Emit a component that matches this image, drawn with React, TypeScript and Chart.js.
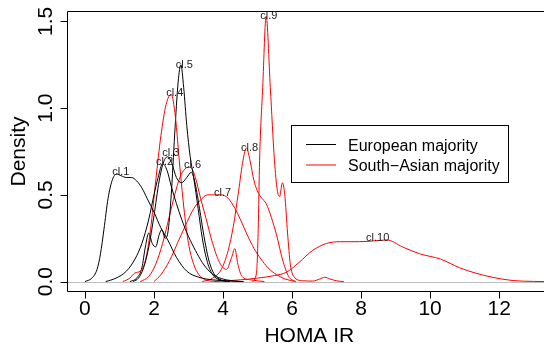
import { useEffect, useRef } from "react";
import { Chart, registerables } from "chart.js";

Chart.register(...registerables);

// ---- data ----
const clusterNames = ["cl.1", "cl.2", "cl.3", "cl.4", "cl.5", "cl.6", "cl.7", "cl.8", "cl.9", "cl.10"];
// 0 = European majority, 1 = South-Asian majority
const clusterGroup = [0, 0, 0, 1, 0, 1, 1, 1, 1, 1];
const groupLabels = ["European majority", "South\u2212Asian majority"];
const groupColors = ["#000000", "#ff0000"];

const cl1X = [0.0, 0.2, 0.35, 0.45, 0.55, 0.67, 0.8, 0.92, 1.05, 1.2, 1.35, 1.5, 1.65, 1.8, 2.0, 2.2, 2.4, 2.65, 2.95, 3.3, 3.7, 4.2, 4.6];
const cl1Y = [0, 0.02, 0.07, 0.16, 0.3, 0.48, 0.59, 0.62, 0.61, 0.6, 0.6, 0.58, 0.54, 0.48, 0.4, 0.31, 0.24, 0.14, 0.06, 0.025, 0.01, 0.003, 0];

const cl2X = [0.6, 0.9, 1.2, 1.45, 1.65, 1.85, 2.0, 2.12, 2.25, 2.38, 2.5, 2.65, 2.8, 3.0, 3.2, 3.4, 3.6, 3.8, 4.1, 4.5];
const cl2Y = [0, 0.02, 0.06, 0.13, 0.22, 0.36, 0.5, 0.6, 0.68, 0.64, 0.55, 0.45, 0.36, 0.26, 0.18, 0.11, 0.06, 0.03, 0.01, 0];

const cl3X = [1.4, 1.55, 1.7, 1.85, 2.0, 2.15, 2.28, 2.4, 2.52, 2.65, 2.8, 2.95, 3.08, 3.2, 3.32, 3.45, 3.58, 3.7, 3.85, 4.1];
const cl3Y = [0, 0.02, 0.08, 0.2, 0.38, 0.58, 0.69, 0.72, 0.68, 0.6, 0.57, 0.6, 0.63, 0.56, 0.42, 0.26, 0.13, 0.06, 0.02, 0];

const cl4X = [1.1, 1.3, 1.45, 1.6, 1.75, 1.9, 2.05, 2.2, 2.35, 2.5, 2.62, 2.75, 2.88, 3.0, 3.15, 3.3, 3.5, 3.8];
const cl4Y = [0, 0.02, 0.05, 0.06, 0.12, 0.3, 0.58, 0.84, 1.02, 1.08, 0.95, 0.66, 0.4, 0.22, 0.1, 0.04, 0.01, 0];

const cl5X = [1.3, 1.5, 1.65, 1.75, 1.85, 1.95, 2.05, 2.15, 2.23, 2.32, 2.4, 2.5, 2.6, 2.7, 2.78, 2.86, 2.95, 3.05, 3.15, 3.28, 3.4, 3.55, 3.7, 3.9, 4.2];
const cl5Y = [0, 0.02, 0.08, 0.2, 0.28, 0.22, 0.2, 0.27, 0.3, 0.25, 0.28, 0.5, 0.85, 1.15, 1.25, 1.12, 0.9, 0.72, 0.6, 0.42, 0.25, 0.11, 0.04, 0.01, 0];

const cl6X = [1.6, 1.85, 2.05, 2.25, 2.45, 2.6, 2.75, 2.9, 3.05, 3.2, 3.35, 3.5, 3.7, 3.9, 4.1, 4.25, 4.34, 4.43, 4.55, 4.8, 5.2];
const cl6Y = [0, 0.03, 0.1, 0.22, 0.38, 0.5, 0.6, 0.65, 0.66, 0.6, 0.48, 0.37, 0.22, 0.11, 0.07, 0.14, 0.19, 0.1, 0.03, 0.01, 0];

const cl7X = [2.0, 2.2, 2.45, 2.7, 2.95, 3.15, 3.35, 3.55, 3.75, 3.95, 4.15, 4.35, 4.5, 4.7, 4.9, 5.1, 5.3, 5.55, 5.8, 6.1];
const cl7Y = [0, 0.04, 0.12, 0.23, 0.34, 0.42, 0.47, 0.5, 0.5, 0.5, 0.48, 0.42, 0.36, 0.27, 0.19, 0.13, 0.08, 0.04, 0.015, 0];

const cl8X = [3.4, 3.7, 3.95, 4.15, 4.3, 4.45, 4.58, 4.68, 4.78, 4.9, 5.05, 5.25, 5.4, 5.55, 5.72, 5.9, 6.1];
const cl8Y = [0, 0.02, 0.07, 0.18, 0.32, 0.52, 0.7, 0.77, 0.7, 0.58, 0.5, 0.45, 0.37, 0.27, 0.13, 0.03, 0];

const cl9X = [4.85, 4.97, 5.02, 5.06, 5.15, 5.25, 5.37, 5.49, 5.57, 5.64, 5.72, 5.79, 5.87, 5.95, 6.05, 6.3, 6.6, 6.8, 6.95, 7.1, 7.3, 7.5];
const cl9Y = [0, 0.05, 0.3, 0.7, 1.12, 1.53, 1.12, 0.7, 0.53, 0.49, 0.57, 0.5, 0.28, 0.1, 0.03, 0.005, 0.003, 0.015, 0.025, 0.015, 0.004, 0];

const cl10X = [3.8, 4.5, 5.0, 5.5, 5.85, 6.2, 6.6, 7.0, 7.4, 7.95, 8.4, 8.75, 9.2, 9.7, 10.3, 10.85, 11.3, 11.8, 12.4, 13.0, 13.3];
const cl10Y = [0, 0.01, 0.02, 0.035, 0.055, 0.11, 0.18, 0.22, 0.23, 0.23, 0.235, 0.24, 0.2, 0.16, 0.13, 0.08, 0.05, 0.025, 0.006, 0.001, 0];

const clusterXs = [cl1X, cl2X, cl3X, cl4X, cl5X, cl6X, cl7X, cl8X, cl9X, cl10X];
const clusterYs = [cl1Y, cl2Y, cl3Y, cl4Y, cl5Y, cl6Y, cl7Y, cl8Y, cl9Y, cl10Y];

// peak label positions
const labelX = [1.04, 2.31, 2.49, 2.6, 2.88, 3.12, 3.99, 4.77, 5.33, 8.48];
const labelY = [0.63, 0.69, 0.74, 1.09, 1.25, 0.67, 0.51, 0.77, 1.53, 0.25];

// axes
const xTicks = [0, 2, 4, 6, 8, 10, 12];
const xTickLabels = ["0", "2", "4", "6", "8", "10", "12"];
const yTicks = [0, 0.5, 1.0, 1.5];
const yTickLabels = ["0.0", "0.5", "1.0", "1.5"];
const xTitle = "HOMA IR";
const yTitle = "Density";
const xDataRange = [0, 13];

const FONT = "'Liberation Sans', Arial, Helvetica, sans-serif";

const rPlotPlugin = {
  id: "rPlot",
  beforeDatasetsDraw(chart: any) {
    const { ctx, chartArea: a, scales } = chart;
    const y0 = Math.round(scales.y.getPixelForValue(0)) + 0.5;
    ctx.save();
    ctx.strokeStyle = "#bebebe";
    ctx.lineWidth = 1;
    ctx.beginPath();
    ctx.moveTo(a.left, y0);
    ctx.lineTo(a.right, y0);
    ctx.stroke();
    ctx.restore();
  },
  afterDraw(chart: any) {
    const { ctx, chartArea: a, scales } = chart;
    const xs = scales.x;
    const ys = scales.y;
    ctx.save();
    // box (left, top, bottom; right edge lies outside the picture)
    ctx.strokeStyle = "#000";
    ctx.lineWidth = 1;
    const L = a.left + 0.5;
    const T = a.top + 0.5;
    const B = a.bottom - 0.5;
    ctx.beginPath();
    ctx.moveTo(a.right + 2, T);
    ctx.lineTo(L, T);
    ctx.lineTo(L, B);
    ctx.lineTo(a.right + 2, B);
    ctx.stroke();

    // x ticks
    ctx.fillStyle = "#000";
    ctx.font = `21px ${FONT}`;
    ctx.textAlign = "center";
    ctx.textBaseline = "alphabetic";
    xTicks.forEach((v, i) => {
      const px = Math.round(xs.getPixelForValue(v)) + 0.5;
      ctx.beginPath();
      ctx.moveTo(px, B);
      ctx.lineTo(px, B + 7);
      ctx.stroke();
      ctx.fillText(xTickLabels[i], xs.getPixelForValue(v), B + 23.5);
    });
    // y ticks
    yTicks.forEach((v, i) => {
      const py = Math.round(ys.getPixelForValue(v)) + 0.5;
      ctx.beginPath();
      ctx.moveTo(L, py);
      ctx.lineTo(L - 7, py);
      ctx.stroke();
      ctx.save();
      ctx.translate(L - 15.5, ys.getPixelForValue(v));
      ctx.rotate(-Math.PI / 2);
      ctx.fillText(yTickLabels[i], 0, 0);
      ctx.restore();
    });
    // titles
    const xMid = xs.getPixelForValue((xDataRange[0] + xDataRange[1]) / 2);
    ctx.fillText(xTitle, xMid, 342);
    const yMid = (a.top + a.bottom) / 2;
    ctx.save();
    ctx.translate(25, yMid);
    ctx.rotate(-Math.PI / 2);
    ctx.fillText(yTitle, 0, 0);
    ctx.restore();

    // peak labels
    ctx.font = `11px ${FONT}`;
    ctx.fillStyle = "#222";
    ctx.textBaseline = "middle";
    clusterNames.forEach((n, i) => {
      ctx.fillText(n, xs.getPixelForValue(labelX[i]), ys.getPixelForValue(labelY[i]));
    });

    // legend
    const lx = 291.5, ly = 125.5, lw = 217, lh = 57;
    ctx.fillStyle = "#fff";
    ctx.fillRect(lx, ly, lw, lh);
    ctx.strokeStyle = "#000";
    ctx.strokeRect(lx, ly, lw, lh);
    ctx.font = `16px ${FONT}`;
    ctx.textAlign = "left";
    ctx.textBaseline = "alphabetic";
    groupLabels.forEach((t, i) => {
      const rowY = 144.5 + i * 20.5;
      ctx.strokeStyle = groupColors[i];
      ctx.beginPath();
      ctx.moveTo(306, rowY);
      ctx.lineTo(336, rowY);
      ctx.stroke();
      ctx.fillStyle = "#000";
      ctx.fillText(t, 348, rowY + 6);
    });
    ctx.restore();
  },
};

export default function App() {
  const ref = useRef<HTMLCanvasElement | null>(null);
  useEffect(() => {
    if (!ref.current) return;
    const datasets = clusterNames.map((name, i) => ({
      label: name,
      data: clusterXs[i].map((x, j) => ({ x, y: clusterYs[i][j] })),
      borderColor: groupColors[clusterGroup[i]],
      borderWidth: 1,
      pointRadius: 0,
      fill: false,
      cubicInterpolationMode: "monotone" as const,
    }));
    const chart = new Chart(ref.current, {
      type: "line",
      data: { datasets },
      options: {
        animation: false,
        responsive: false,
        devicePixelRatio: 1,
        layout: { padding: { left: 67, top: 11, right: 0, bottom: 52 } },
        scales: {
          x: { type: "linear", min: -0.52, max: 13.3, display: false },
          y: { type: "linear", min: -0.06, max: 1.56, display: false },
        },
        plugins: { legend: { display: false }, tooltip: { enabled: false } },
        events: [],
      },
      plugins: [rPlotPlugin],
    });
    return () => chart.destroy();
  }, []);
  return (
    <div style={{ position: "fixed", left: 0, top: 0, width: 544, height: 344, background: "#fff" }}>
      <canvas ref={ref} width={544} height={344} style={{ display: "block" }} />
    </div>
  );
}
